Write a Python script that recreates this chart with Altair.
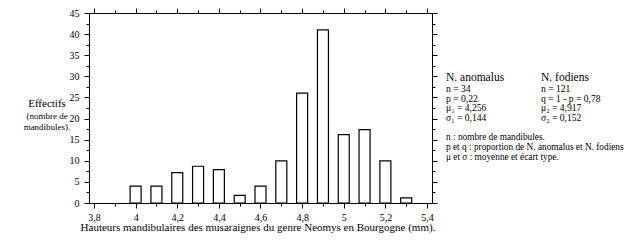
import altair as alt
import pandas as pd

# data
heights = [4.0, 4.1, 4.2, 4.3, 4.4, 4.5, 4.6, 4.7, 4.8, 4.9, 5.0, 5.1, 5.2, 5.3]
counts = [4, 4, 7.2, 8.7, 7.9, 1.8, 4, 10, 26, 41, 16.2, 17.4, 10, 1.2]

x_ticks = [3.8, 3.9, 4.0, 4.1, 4.2, 4.3, 4.4, 4.5, 4.6, 4.7, 4.8, 4.9, 5.0, 5.1, 5.2, 5.3, 5.4]
y_ticks = [0, 2.5, 5, 7.5, 10, 12.5, 15, 17.5, 20, 22.5, 25, 27.5, 30, 32.5, 35, 37.5, 40, 42.5, 45]

x_title = "Hauteurs mandibulaires des musaraignes du genre Neomys en Bourgogne (mm)."
y_title_lines = ["Effectifs", "(nombre de", "mandibules)."]
col1_head = "N. anomalus"
col2_head = "N. fodiens"
col1_lines = ["n = 34", "p = 0,22", "μ₁ = 4,256", "σ₁ = 0,144"]
col2_lines = ["n = 121", "q = 1 - p = 0,78", "μ₂ = 4,917", "σ₂ = 0,152"]
notes = ["n : nombre de mandibules.",
         "p et q : proportion de N. anomalus et N. fodiens",
         "μ et σ : moyenne et écart type."]

FONT = "Liberation Serif, Times New Roman, serif"
df = pd.DataFrame({"h": heights, "c": counts})

xscale = alt.Scale(domain=[3.8, 5.4], nice=False, zero=False)
yscale = alt.Scale(domain=[0, 45], nice=False, zero=True)

x_major = "round(datum.value*10) % 2 == 0"
y_major = "round(datum.value*10) % 50 == 0"

common_axis = dict(domainColor="black", domainWidth=1, tickColor="black", tickWidth=1,
                   grid=False, labelFont=FONT, labelFontSize=10, labelColor="black",
                   labelOverlap=False, labelFlush=False, title=None)

x_bottom = alt.Axis(orient="bottom", values=x_ticks,
                    tickSize={"condition": {"test": x_major, "value": 5}, "value": 3},
                    labelExpr=f"{x_major} ? replace(format(datum.value, '~g'), '.', ',') : ''",
                    labelPadding=4, **common_axis)
y_left = alt.Axis(orient="left", values=y_ticks,
                  tickSize={"condition": {"test": y_major, "value": 5}, "value": 3},
                  labelExpr=f"{y_major} ? format(datum.value, 'd') : ''",
                  labelPadding=5, **common_axis)
x_top = alt.Axis(orient="top", values=x_ticks, labels=False,
                 tickSize={"condition": {"test": x_major, "value": 5}, "value": 3},
                 **common_axis)
y_right = alt.Axis(orient="right", values=y_ticks, labels=False,
                   tickSize={"condition": {"test": y_major, "value": 5}, "value": 3},
                   **common_axis)

bars = alt.Chart(df).mark_bar(fill="white", stroke="black", strokeWidth=1.2, size=11).encode(
    x=alt.X("h:Q", scale=xscale, axis=x_bottom),
    y=alt.Y("c:Q", scale=yscale, axis=y_left),
)
frame = alt.Chart(df).mark_bar(opacity=0, size=11).encode(
    x=alt.X("h:Q", scale=xscale, axis=x_top),
    y=alt.Y("c:Q", scale=yscale, axis=y_right),
)


def text_layer(lines, x, y0, dy, size, align="left"):
    d = pd.DataFrame({"t": lines, "i": list(range(len(lines)))})
    return alt.Chart(d).transform_calculate(yy=f"{y0} + {dy}*datum.i").mark_text(
        font=FONT, fontSize=size, align=align, baseline="middle", color="black"
    ).encode(
        text="t:N",
        x=alt.value(x),
        y=alt.Y("yy:Q", scale=None, axis=None),
    )


# positions are relative to the plot area's top-left corner (page x = 89, y = 13)
texts = [
    text_layer([y_title_lines[0]], -42, 91, 0, 11, "center"),
    text_layer(y_title_lines[1:], -42, 103, 11, 9, "center"),
    text_layer([x_title], 169, 215, 0, 11, "center"),
    text_layer([col1_head], 357, 65, 0, 11.5),
    text_layer([col2_head], 452, 65, 0, 11.5),
    text_layer(col1_lines, 357, 76, 9.7, 9.6),
    text_layer(col2_lines, 452, 76, 9.7, 9.6),
    text_layer(notes, 357, 124, 10.2, 9.3),
]

chart = alt.layer(bars, frame, *texts).resolve_axis(x="independent", y="independent").properties(
    width=343, height=190,
    autosize=alt.AutoSizeParams(type="none"),
    padding={"left": 81, "top": 5, "right": 195, "bottom": 31},
).configure_view(stroke=None).configure(background="white")

chart.save("out.html", embed_options={"renderer": "svg", "actions": False})
